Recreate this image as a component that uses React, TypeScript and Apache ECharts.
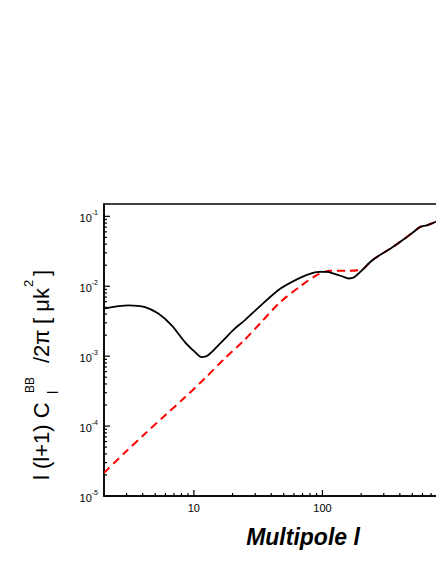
import React, { useEffect, useRef } from "react";
import * as echarts from "echarts";

// Total B-mode spectrum (black solid): multipole l and l(l+1)C_l/2pi in uK^2
const ELL_TOTAL = [2, 3.1, 4.17, 5.29, 6.72, 8.52, 10.18, 11.47, 12.91, 16.39, 20.78, 24.85, 31.2, 47.2, 67.5, 85.6, 96, 108.7, 122.6, 142, 160, 175, 197, 235.5, 265, 337, 427, 510, 575, 648, 755, 800];
const CBB_TOTAL = [4.8e-3, 5.33e-3, 5.04e-3, 4.06e-3, 2.76e-3, 1.59e-3, 1.15e-3, 0.97e-3, 1.03e-3, 1.59e-3, 2.47e-3, 3.25e-3, 4.79e-3, 9.25e-3, 1.33e-2, 1.57e-2, 1.6e-2, 1.6e-2, 1.51e-2, 1.39e-2, 1.29e-2, 1.33e-2, 1.6e-2, 2.22e-2, 2.62e-2, 3.45e-2, 4.65e-2, 5.97e-2, 7.03e-2, 7.43e-2, 8.3e-2, 8.7e-2];

// Lensing B-mode spectrum (red dashed)
const ELL_LENS = [2, 2.92, 4.17, 5.96, 8.52, 12.17, 17.39, 24, 33, 47, 67.5, 91, 115, 155, 191, 209, 235.5, 265, 337, 427, 510, 575, 648, 755, 800];
const CBB_LENS = [2.14e-5, 4.21e-5, 7.78e-5, 1.42e-4, 2.58e-4, 4.81e-4, 9.31e-4, 1.61e-3, 2.99e-3, 5.94e-3, 1.0e-2, 1.45e-2, 1.66e-2, 1.66e-2, 1.7e-2, 1.78e-2, 2.22e-2, 2.62e-2, 3.45e-2, 4.65e-2, 5.97e-2, 7.03e-2, 7.43e-2, 8.3e-2, 8.7e-2];

// Axis ranges and tick labels
const X_MIN = 2;
const X_MAX = 1000;
const Y_MIN = 1e-5;
const Y_MAX = 0.15;
const X_MAJOR_TICKS = [10, 100];
const Y_MAJOR_EXPONENTS = [-5, -4, -3, -2, -1];

const FONT = "Arial, 'Liberation Sans', Helvetica, sans-serif";

const lg = (v: number) => Math.log10(v);

function minorTicks(lo: number, hi: number): number[] {
  const out: number[] = [];
  for (let e = Math.floor(lg(lo)); e <= Math.ceil(lg(hi)); e++) {
    for (let k = 2; k <= 9; k++) {
      const v = k * Math.pow(10, e);
      if (v >= lo && v <= hi) out.push(lg(v));
    }
  }
  return out;
}

export default function App() {
  const ref = useRef<HTMLDivElement>(null);

  useEffect(() => {
    if (!ref.current) return;
    const chart = echarts.init(ref.current, null, { renderer: "svg" });

    const xmin = lg(X_MIN);
    const xmax = lg(X_MAX);
    const ymin = lg(Y_MIN);
    const ymax = lg(Y_MAX);

    const total = ELL_TOTAL.map((l, i) => [lg(l), lg(CBB_TOTAL[i])]);
    const lens = ELL_LENS.map((l, i) => [lg(l), lg(CBB_LENS[i])]);

    const xMajor = X_MAJOR_TICKS.map(lg);
    const yMajor = Y_MAJOR_EXPONENTS.slice();

    // tick list: [position, kind]; kind 0 x-major, 1 x-minor, 2 y-major, 3 y-minor
    const ticks: number[][] = [];
    xMajor.forEach((v) => ticks.push([v, 0]));
    minorTicks(X_MIN, X_MAX).forEach((v) => ticks.push([v, 1]));
    yMajor.forEach((v) => ticks.push([v, 2]));
    minorTicks(Y_MIN, Y_MAX).forEach((v) => ticks.push([v, 3]));

    const axisLineStyle = { color: "#000", width: 1.5 };

    const option: any = {
      animation: false,
      backgroundColor: "#fff",
      grid: {
        left: 104,
        top: 204,
        width: 347,
        height: 292,
        show: true,
        borderColor: "#000",
        borderWidth: 1.5,
        backgroundColor: "transparent",
      },
      xAxis: {
        type: "value",
        position: "bottom",
        min: xmin,
        max: xmax,
        axisLine: { show: true, onZero: false, lineStyle: axisLineStyle },
        axisTick: { show: false },
        axisLabel: {
          show: true,
          customValues: xMajor,
          margin: 6,
          fontFamily: FONT,
          fontSize: 11,
          color: "#000",
          formatter: (v: number) => String(Math.round(Math.pow(10, v))),
        },
        splitLine: { show: false },
      },
      yAxis: {
        type: "value",
        position: "left",
        min: ymin,
        max: ymax,
        axisLine: { show: true, onZero: false, lineStyle: axisLineStyle },
        axisTick: { show: false },
        axisLabel: {
          show: true,
          customValues: yMajor,
          margin: 6,
          fontFamily: FONT,
          color: "#000",
          formatter: (v: number) => `{b|10}{s|${Math.round(v)}}`,
          rich: {
            b: { fontFamily: FONT, fontSize: 11, color: "#000", verticalAlign: "bottom", lineHeight: 15 },
            s: { fontFamily: FONT, fontSize: 7, color: "#000", verticalAlign: "top", lineHeight: 9 },
          },
        },
        splitLine: { show: false },
      },
      series: [
        {
          type: "custom",
          name: "ticks",
          data: ticks,
          encode: { x: 0 },
          silent: true,
          z: 5,
          renderItem: (params: any, api: any) => {
            const v = api.value(0);
            const kind = api.value(1);
            let x1: number, y1: number, x2: number, y2: number;
            if (kind <= 1) {
              const p = api.coord([v, ymin]);
              const len = kind === 0 ? 6 : 3;
              x1 = p[0]; y1 = p[1]; x2 = p[0]; y2 = p[1] - len;
            } else {
              const p = api.coord([xmin, v]);
              const len = kind === 2 ? 6 : 3;
              x1 = p[0]; y1 = p[1]; x2 = p[0] + len; y2 = p[1];
            }
            return {
              type: "line",
              shape: { x1, y1, x2, y2 },
              style: { stroke: "#000", lineWidth: 1.2 },
            };
          },
        },
        {
          type: "line",
          name: "lensing",
          data: lens,
          showSymbol: false,
          smooth: 0.3,
          lineStyle: { color: "#ff0000", width: 2, type: [8, 5] },
          z: 2,
        },
        {
          type: "line",
          name: "total",
          data: total,
          showSymbol: false,
          smooth: 0.3,
          lineStyle: { color: "#000", width: 1.8 },
          z: 3,
        },
      ],
      graphic: [
        {
          type: "text",
          x: 303,
          y: 537,
          style: {
            text: "Multipole l",
            fontFamily: FONT,
            fontSize: 23,
            fontWeight: "bold",
            fontStyle: "italic",
            fill: "#000",
            align: "center",
            verticalAlign: "middle",
          },
        },
        {
          type: "group",
          x: 41,
          y: 480,
          rotation: Math.PI / 2,
          children: [
            { type: "text", x: 0, y: 0, style: { text: "l (l+1) C", fontFamily: FONT, fontSize: 22, fill: "#000", align: "left", verticalAlign: "middle" } },
            { type: "text", x: 86, y: 12, style: { text: "l", fontFamily: FONT, fontSize: 14, fill: "#000", align: "left", verticalAlign: "middle" } },
            { type: "text", x: 87, y: -11, style: { text: "BB", fontFamily: FONT, fontSize: 12, fill: "#000", align: "left", verticalAlign: "middle" } },
            { type: "text", x: 117, y: 0, style: { text: "/2π", fontFamily: FONT, fontSize: 22, fill: "#000", align: "left", verticalAlign: "middle" } },
            { type: "text", x: 156, y: 0, style: { text: "[ μk", fontFamily: FONT, fontSize: 22, fill: "#000", align: "left", verticalAlign: "middle" } },
            { type: "text", x: 193, y: -13, style: { text: "2", fontFamily: FONT, fontSize: 13, fill: "#000", align: "left", verticalAlign: "middle" } },
            { type: "text", x: 204, y: 0, style: { text: "]", fontFamily: FONT, fontSize: 22, fill: "#000", align: "left", verticalAlign: "middle" } },
          ],
        },
      ],
    };

    chart.setOption(option);
    return () => chart.dispose();
  }, []);

  return (
    <div
      ref={ref}
      style={{ position: "fixed", left: 0, top: 0, width: 470, height: 564, background: "#fff" }}
    />
  );
}
